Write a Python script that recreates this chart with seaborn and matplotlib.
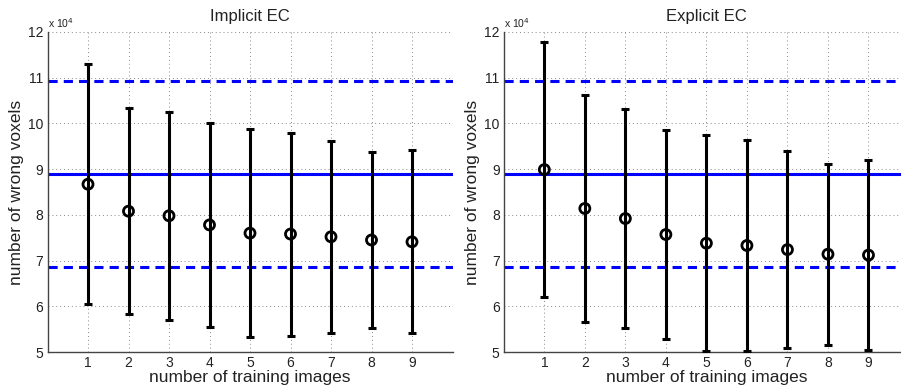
import numpy as np
import pandas as pd
import matplotlib
matplotlib.use("Agg")
import matplotlib.pyplot as plt
import seaborn as sns
from matplotlib.ticker import FuncFormatter

# ---- data (number of wrong voxels) ----
n_train = [1, 2, 3, 4, 5, 6, 7, 8, 9]
implicit_mean = [86700, 80800, 79800, 77800, 76000, 75800, 75200, 74500, 74100]
implicit_std = [26200, 22500, 22800, 22300, 22700, 22200, 21000, 19300, 20000]
explicit_mean = [89900, 81400, 79200, 75700, 73800, 73300, 72400, 71400, 71200]
explicit_std = [27900, 24800, 24000, 22900, 23600, 23000, 21600, 19800, 20800]
baseline_mean = 89000
baseline_std = 20300
titles = ["Implicit EC", "Explicit EC"]
yticks = [50000, 60000, 70000, 80000, 90000, 100000, 110000, 120000]

sns.set_style("white")
plt.rcParams['font.family'] = ['Liberation Sans', 'DejaVu Sans']

fig = plt.figure(figsize=(9.01, 3.92), dpi=100)
W, H = 901, 392
positions = [(47.5, 452.5), (503.8, 909.0)]
top_px, bot_px = 32, 352

series = [(implicit_mean, implicit_std), (explicit_mean, explicit_std)]
for (x0, x1), title, (m, s) in zip(positions, titles, series):
    ax = fig.add_axes([x0 / W, (H - bot_px) / H, (x1 - x0) / W, (bot_px - top_px) / H])
    df = pd.DataFrame({"n": n_train, "mean": m, "std": s})
    # reference lines
    ax.axhline(baseline_mean, color=(0, 0, 1), lw=2.2, zorder=2)
    ax.axhline(baseline_mean + baseline_std, color=(0, 0, 1), lw=2.2, ls=(0, (3, 2)), zorder=2)
    ax.axhline(baseline_mean - baseline_std, color=(0, 0, 1), lw=2.2, ls=(0, (3, 2)), zorder=2)
    # error bars
    ax.errorbar(df["n"], df["mean"], yerr=df["std"], fmt="none", ecolor="black",
                elinewidth=2.2, capsize=2.6, capthick=2.2, zorder=3)
    sns.scatterplot(data=df, x="n", y="mean", ax=ax, marker="o", s=52,
                    facecolor="none", edgecolor="black", linewidth=2.0, zorder=4)
    ax.set_xlim(0, 10)
    ax.set_ylim(50000, 120000)
    ax.set_xticks(n_train)
    ax.set_yticks(yticks)
    ax.yaxis.set_major_formatter(FuncFormatter(lambda v, p: f"{v/1e4:g}"))
    ax.grid(True, ls=(0, (1, 3)), color="#888888", lw=0.7)
    ax.set_axisbelow(True)
    for side in ["top", "right"]:
        ax.spines[side].set_visible(False)
    for side in ["left", "bottom"]:
        ax.spines[side].set_color("#444444")
        ax.spines[side].set_linewidth(1.0)
    ax.tick_params(direction="in", length=3, width=0.8, color="#444444",
                   labelsize=10, labelcolor="#222222", pad=3)
    ax.set_xlabel("number of training images", fontsize=12.5, labelpad=0, color="#222222")
    ax.set_ylabel("number of wrong voxels", fontsize=12.5, labelpad=3, color="#222222")
    ax.set_title(title, fontsize=12, pad=8, color="#222222")
    ax.text(0.0, 1.005, r"x 10$^4$", transform=ax.transAxes, fontsize=7.5,
            ha="left", va="bottom", color="#222222")

fig.savefig("out.png", dpi=100)
